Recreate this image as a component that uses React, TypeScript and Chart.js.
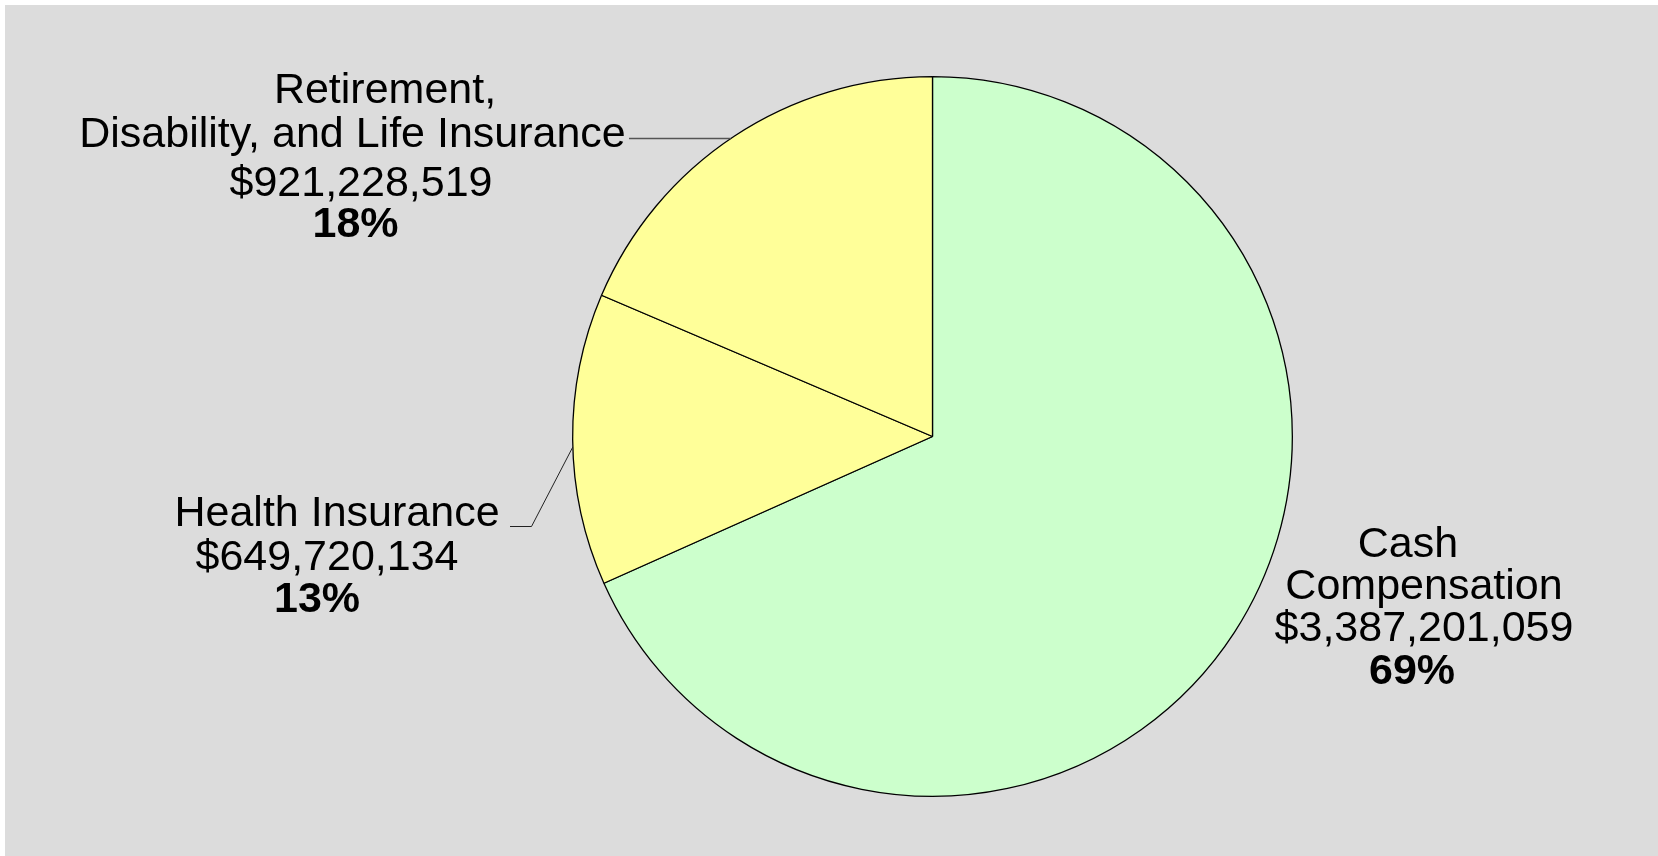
import React, { useEffect, useRef } from "react";
import { Chart, registerables } from "chart.js";

Chart.register(...registerables);

// ---- data ----
const categories = ["Cash Compensation", "Health Insurance", "Retirement, Disability, and Life Insurance"];
const nameLines = [["Cash", "Compensation"], ["Health Insurance"], ["Retirement,", "Disability, and Life Insurance"]];
const amounts = [3387201059, 649720134, 921228519];
const percentLabels = ["69%", "13%", "18%"];
const sliceColors = ["#CCFFCC", "#FFFF99", "#FFFF99"];

// ---- layout (page coordinates; canvas sits at offset 5,5) ----
const OFF = 5;
const CANVAS_W = 1653;
const CANVAS_H = 851;
const FONT_FAMILY = "'Liberation Sans', Arial, Helvetica, sans-serif";
const FONT_SIZE = 43;
// per slice: x-centre and baseline of each text line (name lines, amount, percent)
const lineLayout = [
  [[1408, 557], [1424, 599], [1424, 641], [1412, 684]],
  [[337, 526], [327, 570], [317, 612]],
  [[385, 103], [352.5, 147], [361, 196], [355.5, 237]],
];
// leader lines: start on the arc at page y "arcY", optional elbow, then end point
const leaderLayout: (null | { arcY: number; elbow?: [number, number]; end: [number, number] })[] = [
  null,
  { arcY: 447, elbow: [531.5, 526.5], end: [510, 526.5] },
  { arcY: 138.5, end: [629, 138.5] },
];

const fmtMoney = (v: number) => "$" + v.toLocaleString("en-US");

const bgPlugin = {
  id: "bgFill",
  beforeDraw(chart: any) {
    const { ctx } = chart;
    ctx.save();
    ctx.fillStyle = "#DCDCDC";
    ctx.fillRect(0, 0, chart.width, chart.height);
    ctx.restore();
  },
};

const labelPlugin = {
  id: "sliceLabels",
  afterDatasetsDraw(chart: any) {
    const { ctx } = chart;
    const meta = chart.getDatasetMeta(0);
    ctx.save();
    ctx.textAlign = "center";
    ctx.textBaseline = "alphabetic";
    ctx.fillStyle = "#000000";
    meta.data.forEach((arc: any, i: number) => {
      const lines = [...nameLines[i], fmtMoney(amounts[i]), percentLabels[i]];
      const pos = lineLayout[i];
      lines.forEach((txt, j) => {
        const bold = j === lines.length - 1;
        ctx.font = `${bold ? "bold " : ""}${FONT_SIZE}px ${FONT_FAMILY}`;
        ctx.fillText(txt, pos[j][0] - OFF, pos[j][1] - OFF);
      });
      const leader = leaderLayout[i];
      if (leader) {
        const p = arc.getProps(["x", "y", "outerRadius"], true);
        const sy = leader.arcY - OFF;
        const dy = sy - p.y;
        const sx = p.x - Math.sqrt(Math.max(p.outerRadius * p.outerRadius - dy * dy, 0));
        ctx.beginPath();
        ctx.moveTo(sx, sy);
        if (leader.elbow) {
          ctx.strokeStyle = "#222222";
          ctx.lineWidth = 1;
          ctx.lineTo(leader.elbow[0] - OFF, leader.elbow[1] - OFF);
          ctx.lineTo(leader.end[0] - OFF, leader.end[1] - OFF);
        } else {
          ctx.strokeStyle = "#555555";
          ctx.lineWidth = 1.5;
          ctx.lineTo(leader.end[0] - OFF, leader.end[1] - OFF);
        }
        ctx.stroke();
      }
    });
    ctx.restore();
  },
};

export default function App() {
  const canvasRef = useRef<HTMLCanvasElement | null>(null);

  useEffect(() => {
    document.body.style.margin = "0";
    document.body.style.overflow = "hidden";
    const canvas = canvasRef.current;
    if (!canvas) return;
    const chart = new Chart(canvas, {
      type: "pie",
      data: {
        labels: categories,
        datasets: [
          {
            data: amounts,
            backgroundColor: sliceColors,
            borderColor: "#000000",
            borderWidth: 1.3,
          },
        ],
      },
      options: {
        responsive: false,
        animation: false,
        layout: { padding: { left: 567, right: 365, top: 71, bottom: 59 } },
        plugins: {
          legend: { display: false },
          tooltip: { enabled: false },
        },
      },
      plugins: [bgPlugin, labelPlugin],
    });
    return () => chart.destroy();
  }, []);

  return (
    <div style={{ position: "absolute", left: OFF, top: OFF, width: CANVAS_W, height: CANVAS_H }}>
      <canvas ref={canvasRef} width={CANVAS_W} height={CANVAS_H} />
    </div>
  );
}
